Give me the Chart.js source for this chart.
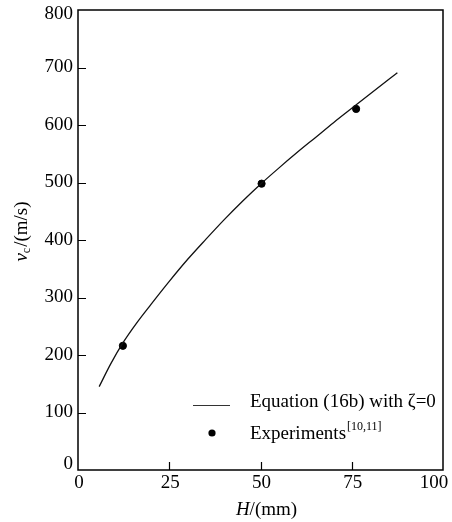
<!DOCTYPE html>
<html>
<head>
<meta charset="utf-8">
<script src="https://cdn.jsdelivr.net/npm/chart.js@4/dist/chart.umd.min.js"></script>
<style>
  html, body { margin: 0; padding: 0; background: #fff; }
  #wrap { width: 452px; height: 522px; }
</style>
</head>
<body>
<div id="wrap"><canvas id="vc-chart" width="452" height="522"></canvas></div>
<script>
// curve: Equation (16b) with zeta = 0
const curveH = [5.8, 9, 12.3, 16, 20, 25, 30, 35, 40, 45, 50, 55, 60, 65, 70, 75, 80, 87.5];
const curveV = [145, 185, 221, 255, 288, 328, 366, 401, 435, 467, 497, 525, 552, 578, 604, 629, 654, 691];

// experiments [10,11]
const expH = [12.3, 50.3, 76.2];
const expV = [216, 498, 628];

const xTicks = [0, 25, 50, 75, 100];
const yTicks = [0, 100, 200, 300, 400, 500, 600, 700, 800];

const serif = "'Liberation Serif', 'DejaVu Serif', serif";

// box, inward ticks, tick labels, axis titles and legend
const framePlugin = {
  id: "frame",
  afterDraw(chart) {
    const ctx = chart.ctx;
    const a = chart.chartArea;
    const xs = chart.scales.x;
    const ys = chart.scales.y;
    ctx.save();
    ctx.strokeStyle = "#000";
    ctx.lineWidth = 1.5;
    ctx.strokeRect(a.left, a.top, a.right - a.left, a.bottom - a.top);

    ctx.lineWidth = 1.2;
    ctx.beginPath();
    xTicks.slice(1, -1).forEach((t) => {
      const px = Math.round(xs.getPixelForValue(t)) + 0.5;
      ctx.moveTo(px, a.bottom);
      ctx.lineTo(px, a.bottom - 8);
    });
    yTicks.slice(1, -1).forEach((t) => {
      const py = Math.round(ys.getPixelForValue(t)) + 0.5;
      ctx.moveTo(a.left, py);
      ctx.lineTo(a.left + 8, py);
    });
    ctx.stroke();

    ctx.fillStyle = "#000";
    ctx.textBaseline = "middle";
    ctx.font = "19px " + serif;

    // tick labels (end labels nudged inside the canvas like the original)
    ctx.textAlign = "center";
    xTicks.forEach((t, i) => {
      let px = xs.getPixelForValue(t) + 1;
      if (i === xTicks.length - 1) px -= 10;
      ctx.fillText(String(t), px, a.bottom + 13);
    });
    ctx.textAlign = "right";
    yTicks.forEach((t, i) => {
      let py = ys.getPixelForValue(t);
      if (i === 0) py -= 6;
      if (i === yTicks.length - 1) py += 4;
      ctx.fillText(String(t), a.left - 5, py);
    });

    // x title: H/(mm)
    const xt1 = "H", xt2 = "/(mm)";
    ctx.font = "italic 19px " + serif;
    const w1 = ctx.measureText(xt1).width;
    ctx.font = "19px " + serif;
    const w2 = ctx.measureText(xt2).width;
    let sx = (a.left + a.right) / 2 + 6 - (w1 + w2) / 2;
    ctx.textAlign = "left";
    ctx.font = "italic 19px " + serif;
    ctx.fillText(xt1, sx, 510);
    ctx.font = "19px " + serif;
    ctx.fillText(xt2, sx + w1, 510);

    // y title: v_c/(m/s)
    ctx.save();
    ctx.translate(22, 232);
    ctx.rotate(-Math.PI / 2);
    ctx.font = "italic 19px " + serif;
    const vw = ctx.measureText("v").width;
    ctx.font = "12px " + serif;
    const cw = ctx.measureText("c").width;
    ctx.font = "19px " + serif;
    const rw = ctx.measureText("/(m/s)").width;
    let ty = -(vw + cw + rw) / 2;
    ctx.font = "italic 19px " + serif;
    ctx.fillText("v", ty, 0);
    ctx.font = "12px " + serif;
    ctx.fillText("c", ty + vw, 5);
    ctx.font = "19px " + serif;
    ctx.fillText("/(m/s)", ty + vw + cw + 1, 0);
    ctx.restore();

    // legend
    ctx.strokeStyle = "#333";
    ctx.lineWidth = 1;
    ctx.beginPath();
    ctx.moveTo(193, 405.5);
    ctx.lineTo(230, 405.5);
    ctx.stroke();
    ctx.font = "19px " + serif;
    ctx.textAlign = "left";
    ctx.fillText("Equation (16b) with \u03B6=0", 250, 402);

    ctx.beginPath();
    ctx.arc(212, 433, 3.6, 0, Math.PI * 2);
    ctx.fill();
    ctx.fillText("Experiments", 250, 434);
    const ew = ctx.measureText("Experiments").width;
    ctx.font = "12px " + serif;
    ctx.fillText("[10,11]", 250 + ew + 1, 427);
    ctx.restore();
  },
};

const ctx = document.getElementById("vc-chart");

new Chart(ctx, {
  type: "scatter",
  data: {
    datasets: [
      {
        label: "Equation (16b) with \u03B6=0",
        data: curveH.map((h, i) => ({ x: h, y: curveV[i] })),
        showLine: true,
        borderColor: "#111",
        borderWidth: 1.3,
        pointRadius: 0,
        cubicInterpolationMode: "monotone",
      },
      {
        label: "Experiments[10,11]",
        data: expH.map((h, i) => ({ x: h, y: expV[i] })),
        showLine: false,
        backgroundColor: "#000",
        borderColor: "#000",
        pointRadius: 3.6,
      },
    ],
  },
  options: {
    responsive: false,
    animation: false,
    layout: { padding: { left: 0, top: 10, right: 9, bottom: 0 } },
    plugins: {
      legend: { display: false },
      tooltip: { enabled: false },
    },
    scales: {
      x: {
        type: "linear",
        min: 0,
        max: 100,
        afterFit: (s) => {
          s.height = 52;
          s.paddingLeft = 0;
          s.paddingRight = 0;
        },
        afterBuildTicks: (s) => { s.ticks = xTicks.map((v) => ({ value: v })); },
        grid: { display: false, drawTicks: false },
        border: { display: false },
        ticks: { display: false },
      },
      y: {
        min: 0,
        max: 800,
        afterFit: (s) => {
          s.width = 78;
          s.paddingTop = 0;
          s.paddingBottom = 0;
        },
        afterBuildTicks: (s) => { s.ticks = yTicks.map((v) => ({ value: v })); },
        grid: { display: false, drawTicks: false },
        border: { display: false },
        ticks: { display: false },
      },
    },
  },
  plugins: [framePlugin],
});
</script>
</body>
</html>
